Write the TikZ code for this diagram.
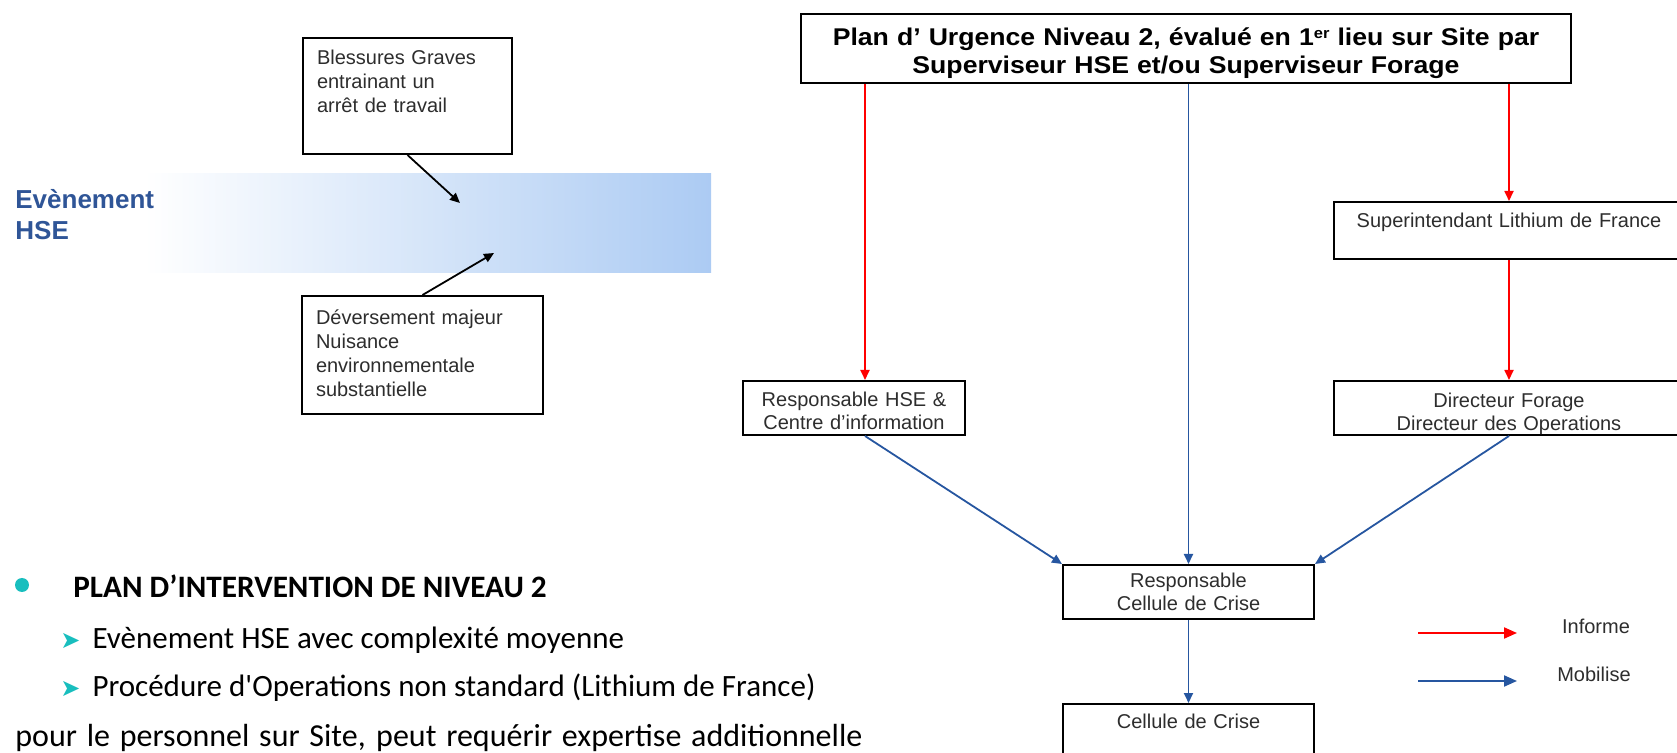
\documentclass[tikz,border=0pt]{standalone}
\usepackage{fontspec}
\setmainfont{Liberation Sans}
\newfontfamily\planfont[FakeStretch=1.1]{Liberation Sans}
\newfontfamily\calibfont{Carlito}
\newfontfamily\symbfont{DejaVu Sans}
\usetikzlibrary{arrows.meta}
\definecolor{hseblue}{RGB}{47,85,151}
\definecolor{linkblue}{RGB}{38,86,160}
\definecolor{bandblue}{RGB}{172,203,243}
\definecolor{puce}{RGB}{24,190,190}
\definecolor{boxtext}{RGB}{45,45,45}
\newcommand{\flechepuce}{{\symbfont\fontsize{12}{12}\selectfont\color{puce}➤}\hspace{6pt}}
\tikzset{
	box/.style={draw, line width=1pt, rectangle, anchor=north west, inner sep=0pt, align=center, text=boxtext, font=\fontsize{10}{11.5}\selectfont},
	causebox/.style={box, align=left, inner xsep=7pt, font=\fontsize{10}{12}\selectfont},
	informe/.style={draw=red, line width=0.9pt, -{Triangle[length=5pt,width=4.5pt]}},
	mobilise/.style={draw=linkblue, line width=0.9pt, -{Triangle[length=5pt,width=4.5pt]}},
	cause/.style={draw=black, line width=0.9pt, -{Triangle[length=5pt,width=4.5pt]}},
	legend/.style={anchor=base, inner sep=0pt, text=boxtext, font=\fontsize{10}{11.5}\selectfont},
	puceline/.style={anchor=base west, inner sep=0pt, font={\calibfont\fontsize{15.5}{18}\selectfont}}
}
\begin{document}
\begin{tikzpicture}[x=0.5pt, y=-0.5pt]
			%%%%% START %%%%%
			\useasboundingbox (0,0) rectangle (1677,753);
			
			%%%%% evenement HSE
			\shade[left color=white, right color=bandblue] (144,174) rectangle (711,273);
			\node[anchor=base west, inner sep=0pt, text width=80pt, align=left, text=hseblue, font=\bfseries\fontsize{13}{15.5}\selectfont] (evt) at (15,209) {Evènement\\HSE};
			
			\node[causebox, minimum width=104.5pt, minimum height=58pt, text width=90.5pt, text height=7.5pt, text depth=39.3pt] (bless) at (302,37) {Blessures Graves\\entrainant un\\arrêt de travail};
			\node[causebox, minimum width=120.5pt, minimum height=59pt, text width=106.5pt, text height=7.5pt, text depth=38.3pt] (dever) at (301,295) {Déversement majeur\\Nuisance\\environnementale\\substantielle};
			\coordinate (blesspt) at (460,203);
			\coordinate (deverpt) at (494,253);
			\draw[cause] (bless.south) -- (blesspt);
			\draw[cause] (dever.north) -- (deverpt);
			
			%%%%% plan niveau 2
			\fill[puce] (22,585) circle (7);
			\node[puceline, font={\calibfont\bfseries\fontsize{15.6}{18}\selectfont}] (titre) at (73,597) {PLAN D’INTERVENTION DE NIVEAU 2};
			\node[puceline] (ligne1) at (60,648) {\flechepuce Evènement HSE avec complexité moyenne};
			\node[puceline] (ligne2) at (60,697) {\flechepuce Procédure d'Operations non standard (Lithium de France)};
			\node[puceline, font={\calibfont\fontsize{16}{18}\selectfont}] (ligne3) at (15,746) {\makebox[423.5pt][s]{pour le personnel sur Site, peut requérir expertise additionnelle}};
			
			%%%%% organigramme
			\node[box, text=black, font=\planfont\bfseries\fontsize{12.1}{14}\selectfont, minimum width=385pt, minimum height=34.5pt, text width=385pt, text height=10pt, text depth=13pt] (plan) at (800,13) {Plan d’ Urgence Niveau 2, évalué en 1\raisebox{3.6pt}{\fontsize{7.5}{7.5}\selectfont er} lieu sur Site par\\Superviseur HSE et/ou Superviseur Forage};
			\node[box, minimum width=175pt, minimum height=28.5pt, text width=175pt, text height=7.5pt, text depth=10pt] (supt) at (1333,201) {Superintendant Lithium de France};
			\node[box, minimum width=111pt, minimum height=27pt, text width=111pt, text height=7pt, text depth=8pt] (rhse) at (742,380) {Responsable HSE \&\\Centre d'information};
			\node[box, minimum width=175pt, minimum height=27pt, text width=175pt, text height=7pt, text depth=7.5pt] (dirf) at (1333,380) {Directeur Forage\\Directeur des Operations};
			\node[box, minimum width=125.5pt, minimum height=27pt, text width=125.5pt, text height=6pt, text depth=10pt] (rcc) at (1062,564) {Responsable\\Cellule de Crise};
			\node[box, minimum width=125.5pt, minimum height=27.5pt, text width=125.5pt, text height=7pt, text depth=10.5pt] (cdc) at (1062,703) {Cellule de Crise};
			
			\coordinate (rhsein) at ([xshift=5.5pt]rhse.north);
			\coordinate (rhseout) at ([xshift=5.5pt]rhse.south);
			\draw[informe] (plan.south -| rhsein) -- (rhsein);
			\draw[mobilise] (plan.south -| rcc.north) -- (rcc.north);
			\draw[informe] (plan.south -| supt.north) -- (supt.north);
			\draw[informe] (supt.south) -- (dirf.north);
			\draw[mobilise] (rhseout) -- (rcc.north west);
			\draw[mobilise] (dirf.south) -- (rcc.north east);
			\draw[mobilise] (rcc.south) -- (cdc.north);
			
			%%%%% legende
			\coordinate (infA) at (1418,633);
			\coordinate (infB) at (1517,633);
			\coordinate (mobA) at (1418,681);
			\coordinate (mobB) at (1517,681);
			\draw[informe, line width=1pt, -{Triangle[length=6.5pt,width=5.5pt]}] (infA) -- (infB);
			\draw[mobilise, line width=1pt, -{Triangle[length=6.5pt,width=5.5pt]}] (mobA) -- (mobB);
			\node[legend] (lgInforme) at (1596,633) {Informe};
			\node[legend] (lgMobilise) at (1594,682) {Mobilise};
			
			%%%%% END %%%%%
		\end{tikzpicture}
\end{document}
